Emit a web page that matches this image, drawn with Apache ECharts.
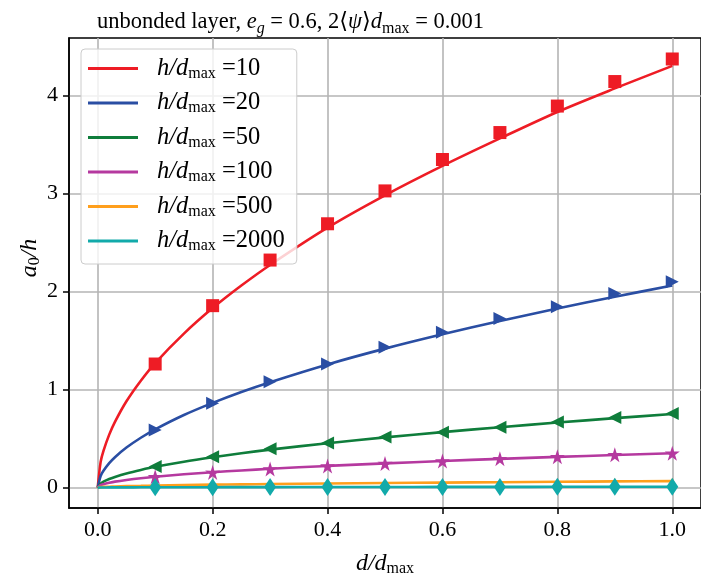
<!DOCTYPE html>
<html>
<head>
<meta charset="utf-8">
<script src="https://cdn.jsdelivr.net/npm/echarts@6/dist/echarts.min.js"></script>
<style>
html,body{margin:0;padding:0;background:#fff;}
#chart{width:701px;height:582px;}
</style>
</head>
<body>
<div id="chart"></div>
<script>
// ---- data ----
const ratios = ['10', '20', '50', '100', '500', '2000'];
const colors = ['#ee1c25', '#2a4ea3', '#0f7d3b', '#b5399f', '#ff9f1c', '#12aaaa'];

// x positions of the smooth curves
const curveX = [0, 0.005, 0.01, 0.02, 0.03, 0.05, 0.075, 0.1, 0.15, 0.2, 0.25, 0.3, 0.4, 0.5, 0.6, 0.7, 0.8, 0.9, 1.0];
const curve10   = [0, 0.26, 0.375, 0.54, 0.67, 0.88, 1.09, 1.27, 1.57, 1.83, 2.06, 2.27, 2.65, 2.98, 3.28, 3.56, 3.83, 4.07, 4.30];
const curve20   = [0, 0.118, 0.171, 0.249, 0.31, 0.408, 0.508, 0.594, 0.74, 0.864, 0.975, 1.075, 1.256, 1.417, 1.563, 1.699, 1.826, 1.946, 2.06];
const curve50   = [0, 0.041, 0.06, 0.087, 0.109, 0.144, 0.18, 0.212, 0.264, 0.309, 0.35, 0.387, 0.453, 0.512, 0.566, 0.616, 0.663, 0.708, 0.75];
const curve100  = [0, 0.025, 0.035, 0.049, 0.061, 0.078, 0.096, 0.111, 0.136, 0.157, 0.175, 0.192, 0.221, 0.247, 0.271, 0.293, 0.313, 0.332, 0.35];
const curve500  = [0, 0.005, 0.007, 0.009, 0.011, 0.015, 0.018, 0.021, 0.026, 0.03, 0.033, 0.036, 0.042, 0.047, 0.051, 0.055, 0.059, 0.063, 0.066];
const curve2000 = [0, 0.001, 0.001, 0.002, 0.002, 0.002, 0.003, 0.003, 0.004, 0.004, 0.005, 0.005, 0.006, 0.006, 0.007, 0.007, 0.008, 0.008, 0.009];

// marker positions
const markX = [0.1, 0.2, 0.3, 0.4, 0.5, 0.6, 0.7, 0.8, 0.9, 1.0];
const mark10   = [1.26, 1.855, 2.32, 2.69, 3.025, 3.345, 3.62, 3.89, 4.14, 4.37];
const mark20   = [0.587, 0.86, 1.08, 1.26, 1.43, 1.585, 1.725, 1.845, 1.98, 2.10];
const mark50   = [0.215, 0.315, 0.395, 0.455, 0.515, 0.565, 0.615, 0.67, 0.715, 0.755];
const mark100  = [0.11, 0.155, 0.19, 0.22, 0.245, 0.27, 0.295, 0.315, 0.335, 0.35];
const mark500  = [0.021, 0.03, 0.036, 0.042, 0.047, 0.051, 0.055, 0.059, 0.063, 0.066];
const mark2000 = [0.003, 0.004, 0.005, 0.006, 0.006, 0.007, 0.007, 0.008, 0.008, 0.009];

const xTicks = [0, 0.2, 0.4, 0.6, 0.8, 1.0];
const yTicks = [0, 1, 2, 3, 4];

// ---- chart ----
const curves = [curve10, curve20, curve50, curve100, curve500, curve2000];
const marks = [mark10, mark20, mark50, mark100, mark500, mark2000];
const starPath = 'path://M50,0L61.2,34.6L97.6,34.5L68.1,55.9L79.4,90.5L50,69L20.6,90.5L31.9,55.9L2.4,34.5L38.8,34.6Z';
const markerStyle = [
  {symbol: 'rect', symbolSize: 13, symbolRotate: 0},
  {symbol: 'triangle', symbolSize: 13, symbolRotate: -90},
  {symbol: 'triangle', symbolSize: 13, symbolRotate: 90},
  {symbol: starPath, symbolSize: 15, symbolRotate: 0},
  {symbol: 'triangle', symbolSize: 7, symbolRotate: 0},
  {symbol: 'diamond', symbolSize: [12, 18], symbolRotate: 0}
];
const SERIF = '"Liberation Serif", "DejaVu Serif", serif';
const names = ratios.map(r => '{i|h/d}{s|max}{n| =' + r + '}');

function richSet(big, small, lh, slh) {
  return {
    n: {fontFamily: SERIF, fontSize: big, fontWeight: 'normal', color: '#000', lineHeight: lh, verticalAlign: 'middle'},
    i: {fontFamily: SERIF, fontSize: big, fontWeight: 'normal', fontStyle: 'italic', color: '#000', lineHeight: lh, verticalAlign: 'middle'},
    si: {fontFamily: SERIF, fontSize: small, fontWeight: 'normal', fontStyle: 'italic', color: '#000', lineHeight: slh, verticalAlign: 'bottom'},
    s: {fontFamily: SERIF, fontSize: small, fontWeight: 'normal', color: '#000', lineHeight: slh, verticalAlign: 'bottom'}
  };
}

const series = [];
curves.forEach((c, k) => {
  series.push({
    name: names[k], type: 'line', showSymbol: false, symbol: 'none', smooth: 0.3,
    data: curveX.map((x, i) => [x, c[i]]),
    lineStyle: {color: colors[k], width: 2.6}, itemStyle: {color: colors[k]},
    z: 3, silent: true
  });
});
marks.forEach((m, k) => {
  series.push({
    name: 'm' + k, type: 'scatter',
    data: markX.map((x, i) => [x, m[i]]),
    symbol: markerStyle[k].symbol, symbolSize: markerStyle[k].symbolSize,
    symbolRotate: markerStyle[k].symbolRotate,
    itemStyle: {color: colors[k], opacity: 1}, z: 4 + k, silent: true
  });
});

const chart = echarts.init(document.getElementById('chart'), null, {renderer: 'canvas'});
chart.setOption({
  animation: false,
  backgroundColor: '#fff',
  title: {
    text: '{n|unbonded layer, }{i|e}{si|g}{n| = 0.6, 2⟨}{i|ψ}{n|⟩}{i|d}{s|max}{n| = 0.001}',
    left: 97, top: 7, padding: 0,
    textStyle: {fontWeight: 'normal', rich: richSet(22.5, 16, 30, 17)}
  },
  grid: {left: 69, top: 38, right: -8, bottom: 68, show: true, borderColor: '#000', borderWidth: 1.5, containLabel: false},
  legend: {
    data: names.map(n => ({name: n, icon: 'rect'})),
    orient: 'vertical', left: 81, top: 49,
    itemWidth: 50, itemHeight: 3, itemGap: 9,
    padding: [7, 12, 10, 7],
    backgroundColor: 'rgba(255,255,255,0.8)', borderColor: '#cccccc', borderWidth: 1, borderRadius: 4,
    selectedMode: false,
    textStyle: {padding: [0, 0, 0, 14], rich: richSet(24.5, 16, 26, 15)}
  },
  xAxis: {
    type: 'value', min: -0.05, max: 1.05,
    name: '{i|d/d}{s|max}', nameLocation: 'middle', nameGap: 43, nameMoveOverlap: false,
    nameTextStyle: {rich: richSet(24, 16, 26, 15)},
    axisLine: {show: true, onZero: false, lineStyle: {color: '#000', width: 1.5}},
    axisTick: {show: true, inside: false, length: 6, customValues: xTicks, lineStyle: {color: '#000', width: 1.5}},
    axisLabel: {customValues: xTicks, margin: 11, fontFamily: SERIF, fontSize: 22, color: '#000',
      formatter: v => Number(v).toFixed(1)},
    splitLine: {show: true, lineStyle: {color: '#b4b4b4', width: 1.6}}
  },
  yAxis: {
    type: 'value', min: -0.208, max: 4.584,
    name: '{i|a}{s|0}{i|/h}', nameLocation: 'middle', nameGap: 26, nameRotate: 90, nameMoveOverlap: false,
    nameTextStyle: {padding: [0, 0, 0, 30], rich: richSet(24, 16, 26, 15)},
    axisLine: {show: true, onZero: false, lineStyle: {color: '#000', width: 1.5}},
    axisTick: {show: true, inside: false, length: 6, customValues: yTicks, lineStyle: {color: '#000', width: 1.5}},
    axisLabel: {customValues: yTicks, margin: 11, fontFamily: SERIF, fontSize: 22, color: '#000',
      formatter: v => String(Math.round(v))},
    splitLine: {show: true, lineStyle: {color: '#b4b4b4', width: 1.6}}
  },
  series: series
});
</script>
</body>
</html>
